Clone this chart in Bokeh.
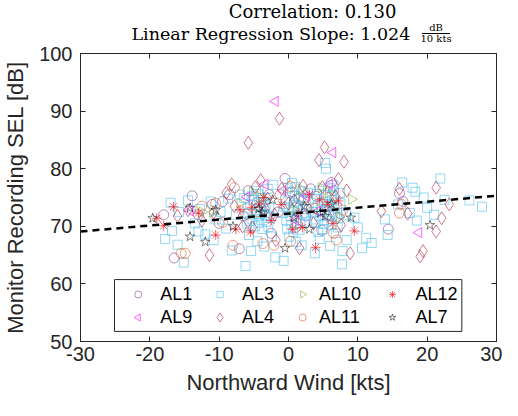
import numpy as np
from bokeh.plotting import figure
from bokeh.layouts import column
from bokeh.models import Range1d, LinearAxis, FixedTicker
from bokeh.core.properties import value
from bokeh.embed import file_html
from bokeh.resources import INLINE

# ---------------- data ----------------
al3_x = [-17.8, -17.0, -16.8, -15.1, -15.8, -14.5, -13.5, -12.8, -12.0, -11.2, -10.5, -9.8, -9.0, -8.7,
         -8.2, -7.6, -7.0, -16.0, -13.0, -10.8,
         -6.2, -5.4, -6.0, -5.8, -5.5, -5.2, -5.0, -4.8, -4.6, -4.4, -4.2, -4.0, -3.8, -3.6, -3.4, -3.2,
         -3.0, -2.8, -5.7, -4.5, -3.5, -2.6, -6.4, -2.4, -1.9, -2.2,
         -5.9, -5.3, -4.9, -4.3, -3.9, -3.3, -4.7, -5.6, -3.1, -2.9,
         -0.8, -0.5, -0.3, 0.0, 0.2, 0.4, 0.6, 0.8, 1.0, 1.2, 1.4, 1.6, 1.8, 2.0, 2.2, 2.4, 2.6, 0.1,
         1.1, -0.7, 0.5, 2.8, -0.2, 1.9,
         -0.6, 0.3, 0.9, 1.3, 1.7, 2.1, 2.5, -0.1, 0.7, 1.5,
         3.5, 3.8, 4.0, 4.2, 4.4, 4.6, 4.8, 5.0, 5.2, 5.4, 5.6, 5.8, 6.0, 6.2, 6.4, 6.6, 6.8, 7.0, 7.2,
         7.4, 3.8, 5.4, 5.3, 4.5, 6.0, 7.7, 7.8, 8.4, 8.3, 9.5, 10.6, 11.2, 12.0, 13.9, 14.3, 10.0,
         3.6, 4.1, 4.7, 5.1, 5.5, 5.9, 6.3, 6.7, 7.1, 7.5, 4.3, 6.5,
         16.4, 17.9, 18.3, 19.5, 21.9, 21.0, 26.1, 27.9, 17.5, 18.5, 20.0, 15.8, 22.5]
al3_y = [67.8, 74.1, 69.2, 63.7, 72.5, 74.5, 70.5, 73.0, 68.6, 74.3, 71.2, 72.5, 69.6, 74.8,
         65.8, 72.0, 75.5, 66.8, 69.1, 67.6,
         63.1, 65.7, 70.5, 72.3, 73.8, 71.2, 74.6, 70.0, 72.8, 75.6, 71.8, 73.5, 69.5, 74.2, 72.0, 70.8,
         76.5, 73.2, 68.5, 67.4, 66.5, 71.5, 74.9, 68.2, 64.6, 77.2,
         73.1, 75.2, 72.1, 70.6, 74.9, 73.7, 76.1, 70.9, 71.9, 69.9,
         72.3, 74.5, 71.0, 73.2, 75.8, 70.2, 72.8, 74.0, 76.8, 71.5, 73.6, 69.4, 75.0, 72.2, 74.4, 70.8, 73.0, 68.2,
         67.3, 64.0, 77.5, 75.8, 69.5, 66.7,
         73.4, 71.8, 75.3, 72.6, 70.5, 76.1, 71.9, 76.6, 69.0, 74.8,
         72.5, 74.8, 70.8, 73.6, 76.2, 71.8, 74.0, 69.5, 72.8, 75.4, 71.0, 73.4, 76.6, 70.2, 72.4, 74.6, 68.8, 73.2, 71.5,
         75.8, 65.3, 80.0, 81.0, 67.8, 66.6, 63.4, 65.7, 67.6, 72.0, 71.5, 66.2, 68.0, 67.1, 71.2, 68.5, 69.8,
         71.2, 75.6, 72.9, 70.4, 74.2, 71.9, 75.3, 72.1, 69.8, 74.0, 69.0, 77.1,
         77.6, 76.7, 76.0, 75.0, 78.3, 72.0, 74.5, 73.4, 72.3, 71.0, 73.2, 73.8, 74.6]

al1_x = [-16.5, -13.9, -13.0, -11.0, -9.5, -8.5, -7.1, -6.5, -5.8, -4.5, -3.5, -2.8, -0.5, -1.5, 0.5,
         1.5, 2.5, 3.2, 4.0, 5.5, 6.5, 7.5, -2.5, 1.0, 14.4, 16.0, 16.5, -18.0, -10.0, 4.8, 6.2]
al1_y = [64.5, 75.3, 72.0, 73.8, 74.3, 75.5, 66.1, 71.8, 76.2, 74.2, 73.0, 75.5, 78.3, 72.5, 76.0,
         74.8, 71.8, 76.5, 75.2, 73.5, 76.2, 72.2, 68.8, 69.8, 69.5, 75.7, 74.3, 72.0, 70.5, 69.3, 77.6]

al10_x = [9.1, -12.5, -11.0, -3.9, -5.2, 1.8, 4.7, 5.8, -7.0, 0.6, 7.3]
al10_y = [74.7, 72.5, 72.4, 75.0, 76.0, 76.5, 76.7, 75.9, 74.0, 73.0, 71.6]

al12_x = [-18.0, -19.0, -16.6, -13.0, -7.6, -5.5, -3.6, -5.3, -4.2, 0.6, 2.0, 3.9, -1.0, 1.5, 4.5,
          5.6, 6.4, -7.0, -2.5, 3.0, 7.2, -10.5, 9.5]
al12_y = [70.1, 71.4, 73.4, 72.3, 69.5, 69.0, 75.0, 73.3, 73.9, 69.5, 69.8, 66.3, 73.8, 72.3, 74.6,
          73.8, 70.5, 72.9, 71.0, 75.5, 74.4, 68.5, 69.2]

al9_x = [-1.9, 6.4, 18.8, -14.2, -3.4, -0.8, 2.6, 5.9, 4.2, -6.0, 1.0]
al9_y = [91.7, 82.8, 68.9, 72.7, 77.3, 76.2, 75.2, 77.3, 72.6, 75.1, 71.1]

al4_x = [-1.3, -5.8, 5.2, 4.4, 8.0, 8.4, 21.3, 16.0, 23.2, 22.1, 21.3, 19.4, 19.0, 13.4, 8.9, -11.4,
         -14.5, -12.5, -10.8, -9.0, -7.8, -6.6, -4.8, -4.0, -3.0, -2.0, -1.0, 0.8, 2.1, 2.8, 3.6, 4.9,
         5.7, 6.8, 7.6, -5.2, -1.8, 1.6, 17.2, -16.0, -8.2, 7.2, -3.5, 0.0]
al4_y = [88.7, 84.5, 83.7, 81.5, 81.2, 76.2, 76.7, 76.5, 73.8, 71.4, 69.1, 65.7, 64.8, 72.6, 65.3, 65.0,
         72.8, 71.0, 72.4, 75.8, 73.5, 70.0, 76.8, 78.0, 74.8, 72.0, 76.5, 74.5, 77.0, 73.2, 70.5, 76.8,
         71.8, 75.2, 70.2, 69.8, 67.6, 66.2, 72.2, 71.8, 77.3, 78.2, 72.6, 74.0]

al11_x = [-15.5, -14.9, -7.8, 0.3, 6.9, 16.0, 16.3, -2.1, 0.3, -3.7, -8.0, -12.5, -10.5, -4.5, -1.2,
          2.2, 3.8, 5.8, 7.8, -6.0, 1.2, -9.5, 6.5]
al11_y = [65.3, 65.3, 76.7, 76.9, 67.6, 72.3, 73.8, 66.7, 67.4, 67.0, 66.7, 73.5, 74.0, 72.5, 75.5,
          74.9, 73.1, 75.0, 72.8, 72.1, 70.5, 70.7, 68.8]

al7_x = [-19.6, -14.2, -12.0, -14.2, -10.5, -4.3, -0.5, 20.4, -3.8, 0.8, 2.3, 4.6, 5.3, 6.2, -2.3, 9.0, -8.0, 3.0]
al7_y = [71.4, 68.2, 67.3, 73.2, 72.8, 73.0, 66.2, 70.2, 72.4, 71.5, 73.5, 72.3, 71.8, 73.9, 74.6, 71.5, 70.0, 69.5]

correlation = 0.130
slope_per_10kts = 1.024
fit_x = [-30, 30]
fit_y = [69.1, 75.3]

x_ticks = [-30, -20, -10, 0, 10, 20, 30]
y_ticks = [50, 60, 70, 80, 90, 100]

legend_names = ["AL1", "AL3", "AL10", "AL12", "AL9", "AL4", "AL11", "AL7"]

# ---------------- styles ----------------
AX = "#262626"
SANS = "Liberation Sans"
SERIF = "DejaVu Serif"
W = 502
TH = 44

# ---------------- title figure ----------------
t = figure(width=W, height=TH, output_backend="svg", toolbar_location=None,
           x_range=Range1d(0, W), y_range=Range1d(0, TH),
           x_axis_location=None, y_axis_location=None,
           min_border=0, min_border_left=0, min_border_right=0,
           min_border_top=0, min_border_bottom=0)
t.grid.visible = False
t.outline_line_color = None
t.background_fill_color = "white"
t.border_fill_color = "white"

t.text(x=[280], y=[33.5], text=[f"Correlation: {correlation:.3f}"],
       text_font=value(SERIF), text_font_size="18px", text_align="center",
       text_baseline="middle", text_color="black")
t.text(x=[398], y=[10.5], text=[f"Linear Regression Slope: {slope_per_10kts:.3f}"],
       text_font=value(SERIF), text_font_size="17.5px", text_align="right",
       text_baseline="middle", text_color="black")
t.text(x=[429], y=[17.5], text=["dB"], text_font=value(SERIF), text_font_size="10px",
       text_align="center", text_baseline="middle", text_color="black")
t.text(x=[429], y=[0.5], text=["10 kts"], text_font=value(SERIF), text_font_size="10px",
       text_align="center", text_baseline="bottom", text_color="black")
t.segment(x0=[412], y0=[11], x1=[446], y1=[11], line_color="black", line_width=1)

# ---------------- main figure ----------------
p = figure(width=W, height=400 - TH, output_backend="svg", toolbar_location=None,
           x_range=Range1d(-30, 30), y_range=Range1d(50, 100),
           min_border_left=73, min_border_right=6, min_border_top=9, min_border_bottom=59)
p.xgrid.visible = False
p.ygrid.visible = False
p.outline_line_color = AX
p.background_fill_color = "white"
p.border_fill_color = "white"

for ax in (p.xaxis[0], p.yaxis[0]):
    ax.major_tick_in = 5
    ax.major_tick_out = 0
    ax.minor_tick_in = 0
    ax.minor_tick_out = 0
    ax.axis_line_color = AX
    ax.major_tick_line_color = AX
    ax.major_label_text_font = SANS
    ax.major_label_text_font_size = "20px"
    ax.major_label_text_color = AX
    ax.axis_label_text_font = SANS
    ax.axis_label_text_font_size = "22px"
    ax.axis_label_text_font_style = "normal"
    ax.axis_label_text_color = AX

p.xaxis[0].ticker = FixedTicker(ticks=x_ticks)
p.yaxis[0].ticker = FixedTicker(ticks=y_ticks)
p.xaxis[0].major_label_overrides = {v: str(v) for v in x_ticks}
p.yaxis[0].major_label_overrides = {v: str(v) for v in y_ticks}
p.xaxis[0].axis_label = "Northward Wind [kts]"
p.yaxis[0].axis_label = "Monitor Recording SEL [dB]"
p.xaxis[0].major_label_standoff = 5
p.yaxis[0].major_label_standoff = 8
p.xaxis[0].axis_label_standoff = 6
p.yaxis[0].axis_label_standoff = 8

for loc, tk in (("right", y_ticks), ("above", x_ticks)):
    a = LinearAxis(ticker=FixedTicker(ticks=tk), major_tick_in=5, major_tick_out=0,
                   minor_tick_in=0, minor_tick_out=0, axis_line_color=AX,
                   major_tick_line_color=AX, major_label_text_font_size="0px",
                   major_label_text_color=None, major_label_standoff=0)
    p.add_layout(a, loc)

series = {
    "AL1": (al1_x, al1_y, "circle", "#7e2f8e", 0.55, 0),
    "AL3": (al3_x, al3_y, "square", "#4dbeee", 0.6, 0),
    "AL10": (al10_x, al10_y, "triangle", "#77ac30", 0.55, -np.pi / 2),
    "AL12": (al12_x, al12_y, "asterisk", "#ff0000", 0.6, 0),
    "AL9": (al9_x, al9_y, "triangle", "#ff00ff", 0.6, np.pi / 2),
    "AL4": (al4_x, al4_y, "diamond", "#a2142f", 0.55, 0),
    "AL11": (al11_x, al11_y, "circle", "#d95319", 0.55, 0),
    "AL7": (al7_x, al7_y, "star", "#000000", 0.5, 0),
}
sizes = {"circle": 10, "square": 9, "triangle": 10, "asterisk": 10, "diamond": 13, "star": 10}

for name in legend_names:
    xs, ys, mk, col, alpha, ang = series[name]
    p.scatter(xs, ys, marker=mk, size=sizes[mk], angle=ang, fill_color=None,
              line_color=col, line_alpha=alpha, line_width=1)

p.line(fit_x, fit_y, line_color="black", line_width=2.5, line_dash="7 5")

# ---------------- legend (drawn manually to keep marker orientation) ----------------
p.quad(left=[-25.1], right=[25.0], bottom=[51.75], top=[60.75],
       fill_color="white", line_color=AX, line_width=1)
leg_mx = [-21.67, -9.86, 2.04, 15.0]
leg_tx = [-18.5, -6.7, 4.39, 18.33]
leg_ry = [58.16, 54.17]
for i, name in enumerate(legend_names):
    r, c = divmod(i, 4)
    xs, ys, mk, col, alpha, ang = series[name]
    p.scatter([leg_mx[c]], [leg_ry[r]], marker=mk, size=sizes[mk] * 0.7, angle=ang,
              fill_color=None, line_color=col, line_alpha=alpha, line_width=1)
    p.text(x=[leg_tx[c]], y=[leg_ry[r]], text=[name], text_font=value(SANS),
           text_font_size="18px", text_align="left", text_baseline="middle",
           text_color="black")

open("out.html", "w").write(file_html(column(t, p, spacing=0), INLINE))
